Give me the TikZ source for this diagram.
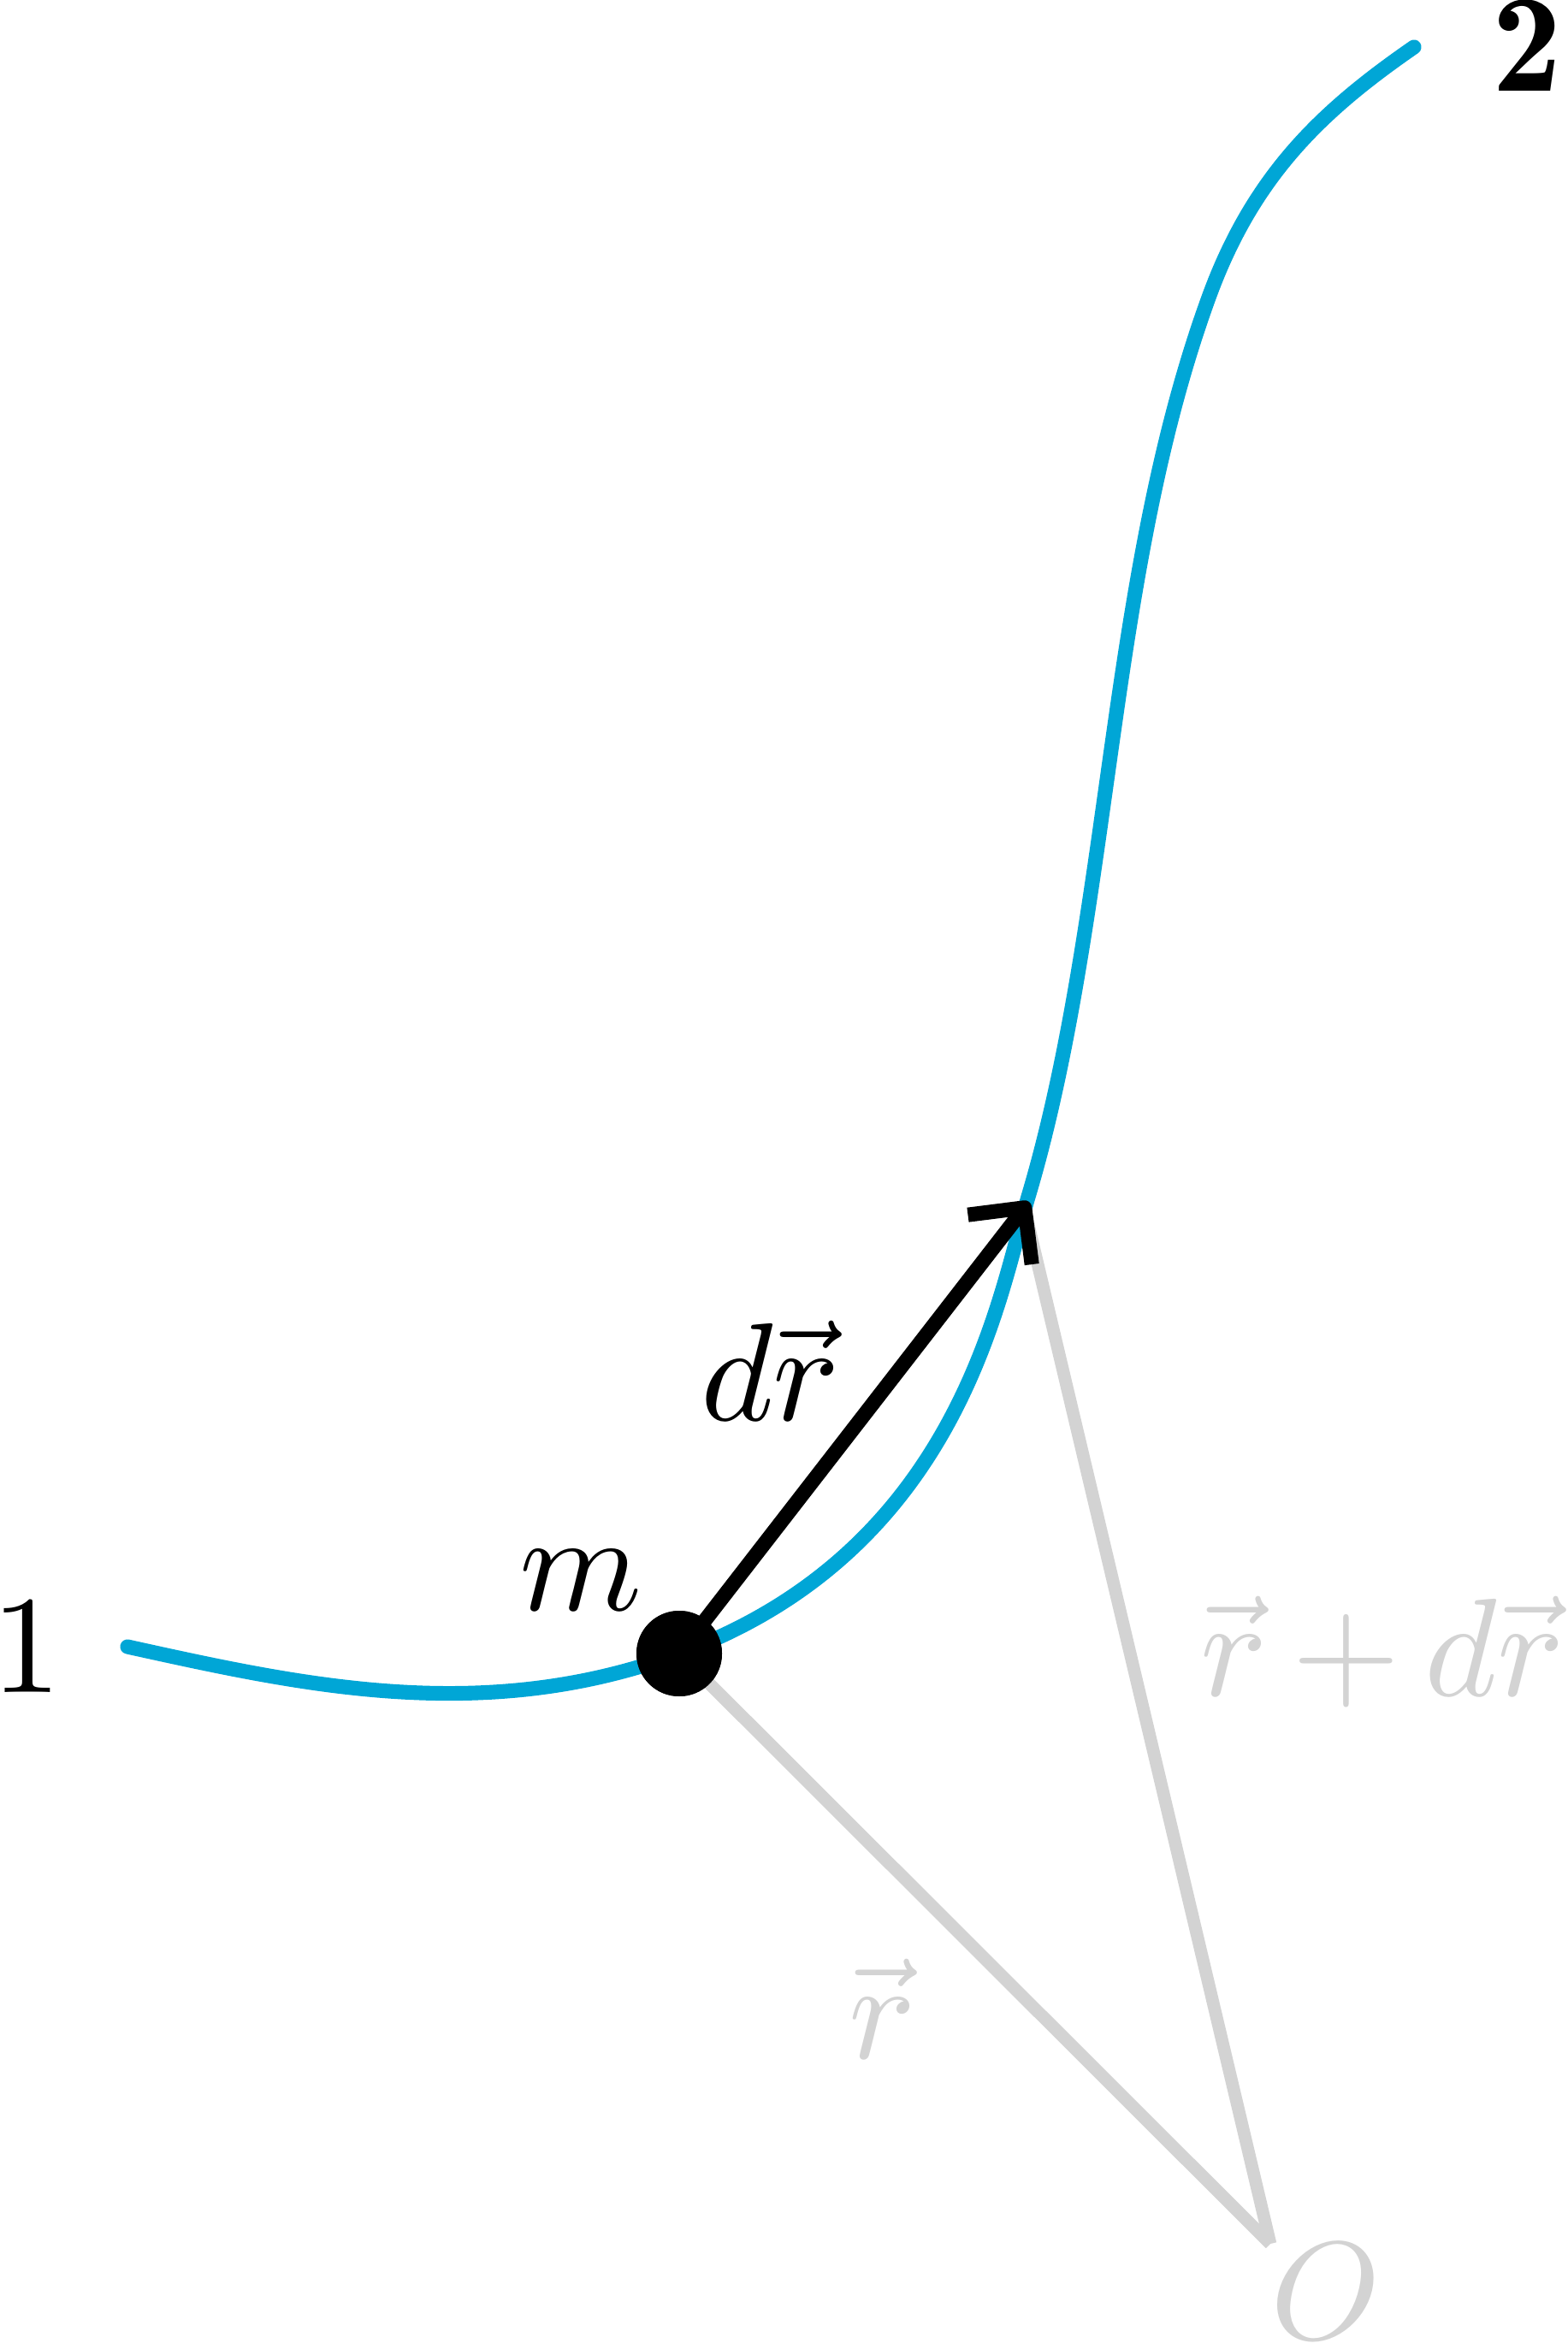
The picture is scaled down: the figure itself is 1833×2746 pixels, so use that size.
\documentclass[tikz,border=0pt]{standalone}
\usetikzlibrary{arrows.meta}
\definecolor{pathblue}{RGB}{0,166,214}
\definecolor{vecgray}{RGB}{211,211,211}
\newcommand\myvr{\vec{r\kern-0.9pt}\kern0.9pt}
\begin{document}
\begin{tikzpicture}[x=0.06135pt,y=-0.06135pt,
  lbl/.style={inner sep=0pt,outer sep=0pt},
  graylbl/.style={lbl,text=vecgray},
  trajectory/.style={draw=pathblue,line width=1.05pt,line cap=round,line join=round},
  posline/.style={draw=vecgray,line width=0.9pt,line cap=butt},
  dispvec/.style={draw=black,line width=1.05pt,
    -{Straight Barb[length=2.9pt,width=5.8pt,line join=round,line cap=butt]}},
  massdot/.style={circle,fill=black,minimum size=6.135pt,inner sep=0pt}]
\useasboundingbox (0,0) rectangle (1833,2746);
% points
\coordinate (O) at (1485,2623);
\coordinate (tip) at (1203,1405);
\coordinate (tipg) at (1197,1410);
\coordinate (mc) at (794,1933);
\coordinate (start) at (149,1925);
\coordinate (finish) at (1653,55);
% position vectors
\draw[posline] (mc) -- (O);
\draw[posline] (tipg) -- (O);
% trajectory
\draw[trajectory] (start) .. controls (349,1969) and (564,2018) .. (mc)
  .. controls (1122,1812) and (1168,1514) .. (1202,1399)
  .. controls (1245,1255) and (1269,1089) .. (1290,940)
  .. controls (1318,742) and (1345,533) .. (1414,345)
  .. controls (1466,204) and (1546,129) .. (finish);
% mass
\node[massdot] (m) at (mc) {};
\draw[dispvec] (m.center) -- (tip);
\node[massdot] at (mc) {};
% labels
\node[lbl,anchor=base east] (one) at (72,1978) {1};
\node[lbl,anchor=base east] (two) at (1826,107) {\fontseries{b}\selectfont 2};
\node[lbl,anchor=base] (mlbl) at (679,1882) {$m$};
\node[lbl,anchor=base west] (drlbl) at (819,1661) {$d\myvr$};
\node[graylbl,anchor=base west] (rdrlbl) at (1403,1982) {$\myvr\mskip3.2mu{+}\mskip3.2mu d\myvr$};
\node[graylbl,anchor=base west] (rlbl) at (992,2406) {$\myvr$};
\node[graylbl,anchor=base west] (olbl) at (1485,2734) {$O$};
\end{tikzpicture}
\end{document}
